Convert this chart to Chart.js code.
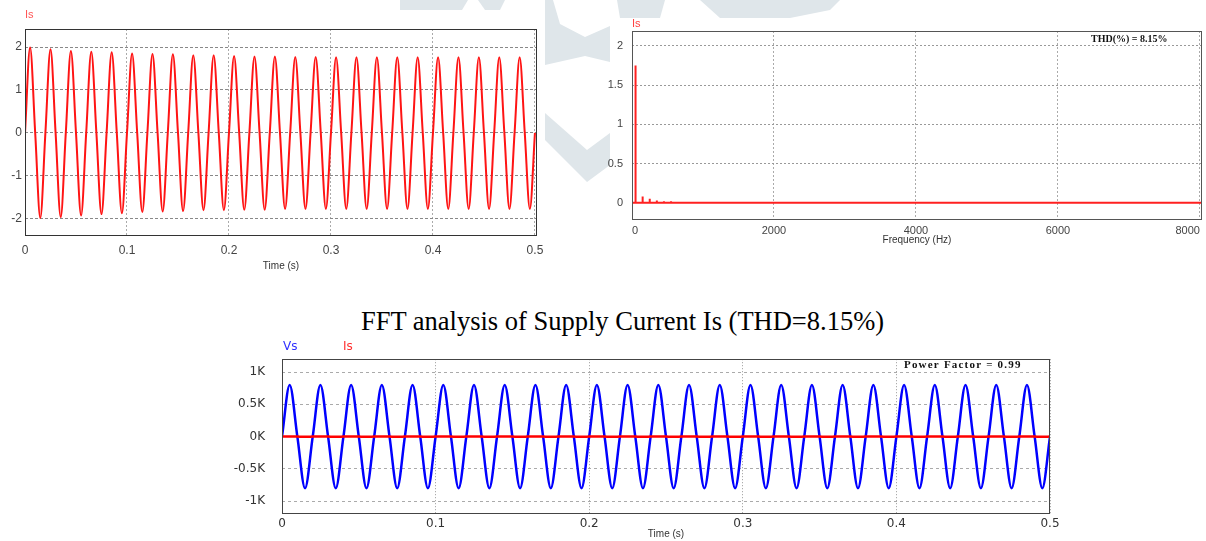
<!DOCTYPE html>
<html>
<head>
<meta charset="utf-8">
<script src="https://cdn.jsdelivr.net/npm/chart.js@4.4.1/dist/chart.umd.min.js"></script>
<style>
  html, body { margin: 0; padding: 0; background: #fff; }
  body { width: 1206px; height: 541px; position: relative; overflow: hidden; }
  .abs { position: absolute; }
  #caption {
    left: 361px; top: 308px; color: #000; white-space: nowrap;
    font: 26.5px 'Liberation Serif', 'Times New Roman', serif; line-height: 26px;
  }
</style>
</head>
<body>
<!-- faint watermark showing between the pasted plots -->
<svg class="abs" style="left:0;top:0" width="1206" height="541">
  <g fill="#dfe6ea">
    <polygon points="400,0 468,0 462,10 400,10"/>
    <polygon points="478,0 505,0 500,10 485,10"/>
    <polygon points="545,0 553,0 560,24 585,37 610,26 610,62 585,56 545,65"/>
    <polygon points="545,113 587,150 610,133 610,165 587,182 545,140"/>
    <polygon points="617,0 665,0 660,18 620,18"/>
    <polygon points="700,0 840,0 830,10 790,18 720,18"/>
  </g>
</svg>
<canvas id="isTime" class="abs" style="left:0;top:0" width="560" height="280"></canvas>
<canvas id="isFft" class="abs" style="left:590px;top:0" width="616" height="250"></canvas>
<div id="caption" class="abs">FFT analysis of Supply Current Is (THD=8.15%)</div>
<canvas id="vsIs" class="abs" style="left:230px;top:335px" width="850" height="206"></canvas>

<script>
// ---- data ----
const period = 0.02; // 50 Hz, 25 cycles in 0.5 s

// supply current Is: positive and negative peak of each cycle (A)
const isPeaks = [1.99, 1.95, 1.91, 1.89, 1.88, 1.85, 1.84, 1.83, 1.81, 1.81, 1.79, 1.78, 1.78,
                 1.77, 1.77, 1.76, 1.76, 1.76, 1.76, 1.76, 1.76, 1.76, 1.76, 1.76, 1.76];
const isTroughs = [-1.98, -1.96, -1.92, -1.89, -1.87, -1.84, -1.83, -1.82, -1.80, -1.80, -1.79, -1.79, -1.77,
                   -1.77, -1.77, -1.77, -1.77, -1.77, -1.77, -1.77, -1.77, -1.77, -1.77, -1.77, -1.77];

// supply voltage Vs: peaks of each cycle (V)
const vsPeaks = [800, 800, 800, 800, 800, 800, 800, 800, 800, 800, 800, 800, 800,
                 800, 800, 800, 800, 800, 800, 800, 800, 800, 800, 800, 800];
const vsTroughs = [-800, -800, -800, -800, -800, -800, -800, -800, -800, -800, -800, -800, -800,
                   -800, -800, -800, -800, -800, -800, -800, -800, -800, -800, -800, -800];

// FFT of Is: harmonic lines (Hz) and amplitudes (A)
const fftFreqs = [50, 150, 250, 350, 450, 550];
const fftMags = [1.75, 0.08, 0.05, 0.03, 0.02, 0.02];

// ticks
const timeTicks = [0, 0.1, 0.2, 0.3, 0.4, 0.5];
const timeTickLabels = ['0', '0.1', '0.2', '0.3', '0.4', '0.5'];
const isTicks = [-2, -1, 0, 1, 2];
const isTickLabels = ['-2', '-1', '0', '1', '2'];
const fftTicksX = [0, 2000, 4000, 6000, 8000];
const fftTickLabelsX = ['0', '2000', '4000', '6000', '8000'];
const fftTicksY = [0, 0.5, 1, 1.5, 2];
const fftTickLabelsY = ['0', '0.5', '1', '1.5', '2'];
const vsTicks = [-1000, -500, 0, 500, 1000];
const vsTickLabels = ['-1K', '-0.5K', '0K', '0.5K', '1K'];

/**
 * Turn per-cycle peaks into points: zero, peak, zero, trough for every cycle
 */
function waveform(peaks, troughs) {
    const pts = [];
    peaks.forEach((p, k) => {
        const t0 = k * period;
        pts.push({ x: t0, y: 0 }, { x: t0 + period / 4, y: p },
                 { x: t0 + period / 2, y: 0 }, { x: t0 + 3 * period / 4, y: troughs[k] });
    });
    pts.push({ x: peaks.length * period, y: 0 });
    return pts;
}

/**
 * Spectrum trace: flat zero line with a vertical spike at each harmonic
 */
function spectrum(freqs, mags, fEnd) {
    const pts = [{ x: 0, y: 0 }];
    freqs.forEach((f, i) => {
        pts.push({ x: f, y: 0 }, { x: f, y: mags[i] }, { x: f, y: 0 });
    });
    pts.push({ x: fEnd, y: 0 });
    return pts;
}

// frame round the plot area + loose labels (canvas coordinates)
const framePlugin = {
    id: 'frame',
    afterDraw(chart, args, opts) {
        const { ctx, chartArea: a } = chart;
        ctx.save();
        ctx.strokeStyle = opts.color || '#333';
        ctx.lineWidth = 1;
        ctx.strokeRect(Math.round(a.left) + 0.5, Math.round(a.top) + 0.5,
                       Math.round(a.right - a.left) - 1, Math.round(a.bottom - a.top) - 1);
        (opts.labels || []).forEach(l => {
            ctx.font = l.font;
            ctx.fillStyle = l.color;
            ctx.textAlign = l.align || 'left';
            ctx.textBaseline = 'middle';
            ctx.letterSpacing = l.spacing || '0px';
            ctx.fillText(l.text, l.x, l.y);
        });
        ctx.restore();
    }
};

function axis(opts) {
    const { min, max, values, labels, size, isX, font, color, padding, gridColor, dash, title, align } = opts;
    const scale = {
        type: 'linear',
        min: min,
        max: max,
        afterBuildTicks: s => { s.ticks = values.map(v => ({ value: v })); },
        afterFit: s => { if (isX) { s.height = size; } else { s.width = size; } },
        ticks: {
            autoSkip: false,
            maxRotation: 0,
            padding: padding,
            font: font,
            color: color,
            align: align || 'center',
            callback: (v, i) => labels[i]
        },
        grid: { color: gridColor, lineWidth: 1, drawTicks: false },
        border: { display: false, dash: dash }
    };
    if (title) scale.title = title;
    return scale;
}

const baseOptions = {
    responsive: false,
    animation: false,
    devicePixelRatio: 1,
    events: []
};

// ---- Is vs time ----
new Chart(document.getElementById('isTime'), {
    type: 'line',
    data: {
        datasets: [{
            data: waveform(isPeaks, isTroughs),
            borderColor: '#ff1414',
            borderWidth: 2,
            pointRadius: 0,
            cubicInterpolationMode: 'monotone'
        }]
    },
    options: Object.assign({}, baseOptions, {
        layout: { padding: { top: 29, right: 23, left: 0, bottom: 0 } },
        plugins: {
            legend: { display: false },
            tooltip: { enabled: false },
            frame: {
                color: '#333',
                labels: [{ text: 'Is', x: 25, y: 15, font: '11px "Liberation Sans", Arial', color: '#ff5555' }]
            }
        },
        scales: {
            x: axis({
                min: 0, max: 0.502, values: timeTicks, labels: timeTickLabels, size: 44, isX: true,
                font: { family: '"Liberation Sans", Arial', size: 12 }, color: '#444', padding: 7,
                gridColor: '#aaa', dash: [2, 2],
                title: { display: true, text: 'Time (s)', color: '#333',
                         font: { family: '"Liberation Sans", Arial', size: 10 }, padding: { top: 0, bottom: 8 } }
            }),
            y: axis({
                min: -2.4, max: 2.42, values: isTicks, labels: isTickLabels, size: 25, isX: false,
                font: { family: '"Liberation Sans", Arial', size: 12 }, color: '#444', padding: 3,
                gridColor: '#888', dash: [3, 2]
            })
        }
    }),
    plugins: [framePlugin]
});

// ---- FFT of Is ----
new Chart(document.getElementById('isFft'), {
    type: 'line',
    data: {
        datasets: [{
            data: spectrum(fftFreqs, fftMags, 8030),
            borderColor: '#ff2020',
            borderWidth: 2,
            borderJoinStyle: 'bevel',
            pointRadius: 0,
            tension: 0
        }]
    },
    options: Object.assign({}, baseOptions, {
        layout: { padding: { top: 31, right: 4, left: 0, bottom: 0 } },
        plugins: {
            legend: { display: false },
            tooltip: { enabled: false },
            frame: {
                color: '#555',
                labels: [
                    { text: 'Is', x: 42, y: 24, font: '11px "Liberation Sans", Arial', color: '#ff4040' },
                    { text: 'THD(%) = 8.15%', x: 501, y: 39, font: 'bold 10px "Liberation Serif", serif', color: '#111' }
                ]
            }
        },
        scales: {
            x: axis({
                min: 0, max: 8030, values: fftTicksX, labels: fftTickLabelsX, size: 30, isX: true,
                font: { family: '"Liberation Sans", Arial', size: 11 }, color: '#444', padding: 4,
                gridColor: '#aaa', dash: [2, 2], align: 'inner',
                title: { display: true, text: 'Frequency (Hz)', color: '#333',
                         font: { family: '"Liberation Sans", Arial', size: 10 }, padding: { top: 0, bottom: 4 } }
            }),
            y: axis({
                min: -0.22, max: 2.19, values: fftTicksY, labels: fftTickLabelsY, size: 42, isX: false,
                font: { family: '"Liberation Sans", Arial', size: 11 }, color: '#444', padding: 9,
                gridColor: '#999', dash: [2, 2]
            })
        }
    }),
    plugins: [framePlugin]
});

// ---- Vs and Is vs time ----
new Chart(document.getElementById('vsIs'), {
    type: 'line',
    data: {
        datasets: [{
            label: 'Vs',
            data: waveform(vsPeaks, vsTroughs),
            borderColor: '#0000ff',
            borderWidth: 2.5,
            pointRadius: 0,
            cubicInterpolationMode: 'monotone',
            order: 2
        }, {
            label: 'Is',
            data: waveform(isPeaks, isTroughs),
            borderColor: '#ff0000',
            borderWidth: 2.5,
            pointRadius: 0,
            cubicInterpolationMode: 'monotone',
            order: 1
        }]
    },
    options: Object.assign({}, baseOptions, {
        layout: { padding: { top: 23, right: 30, left: 0, bottom: 0 } },
        plugins: {
            legend: { display: false },
            tooltip: { enabled: false },
            frame: {
                color: '#444',
                labels: [
                    { text: 'Vs', x: 53, y: 12, font: '12px "DejaVu Sans", Verdana', color: '#3030ff' },
                    { text: 'Is', x: 113, y: 12, font: '12px "DejaVu Sans", Verdana', color: '#ff3030' },
                    { text: 'Power Factor = 0.99', x: 674, y: 30, font: 'bold 11px "Liberation Serif", serif',
                      color: '#111', spacing: '1.2px' }
                ]
            }
        },
        scales: {
            x: axis({
                min: 0, max: 0.5, values: timeTicks, labels: timeTickLabels, size: 27, isX: true,
                font: { family: '"DejaVu Sans", Verdana', size: 12 }, color: '#333', padding: 3,
                gridColor: '#999', dash: [1, 2],
                title: { display: true, text: 'Time (s)', color: '#333',
                         font: { family: '"Liberation Sans", Arial', size: 10 }, padding: { top: 0, bottom: 1 } }
            }),
            y: axis({
                min: -1200, max: 1200, values: vsTicks, labels: vsTickLabels, size: 52, isX: false,
                font: { family: '"DejaVu Sans", Verdana', size: 12 }, color: '#333', padding: 17,
                gridColor: '#aaa', dash: [3, 3]
            })
        }
    }),
    plugins: [framePlugin]
});
</script>
</body>
</html>
